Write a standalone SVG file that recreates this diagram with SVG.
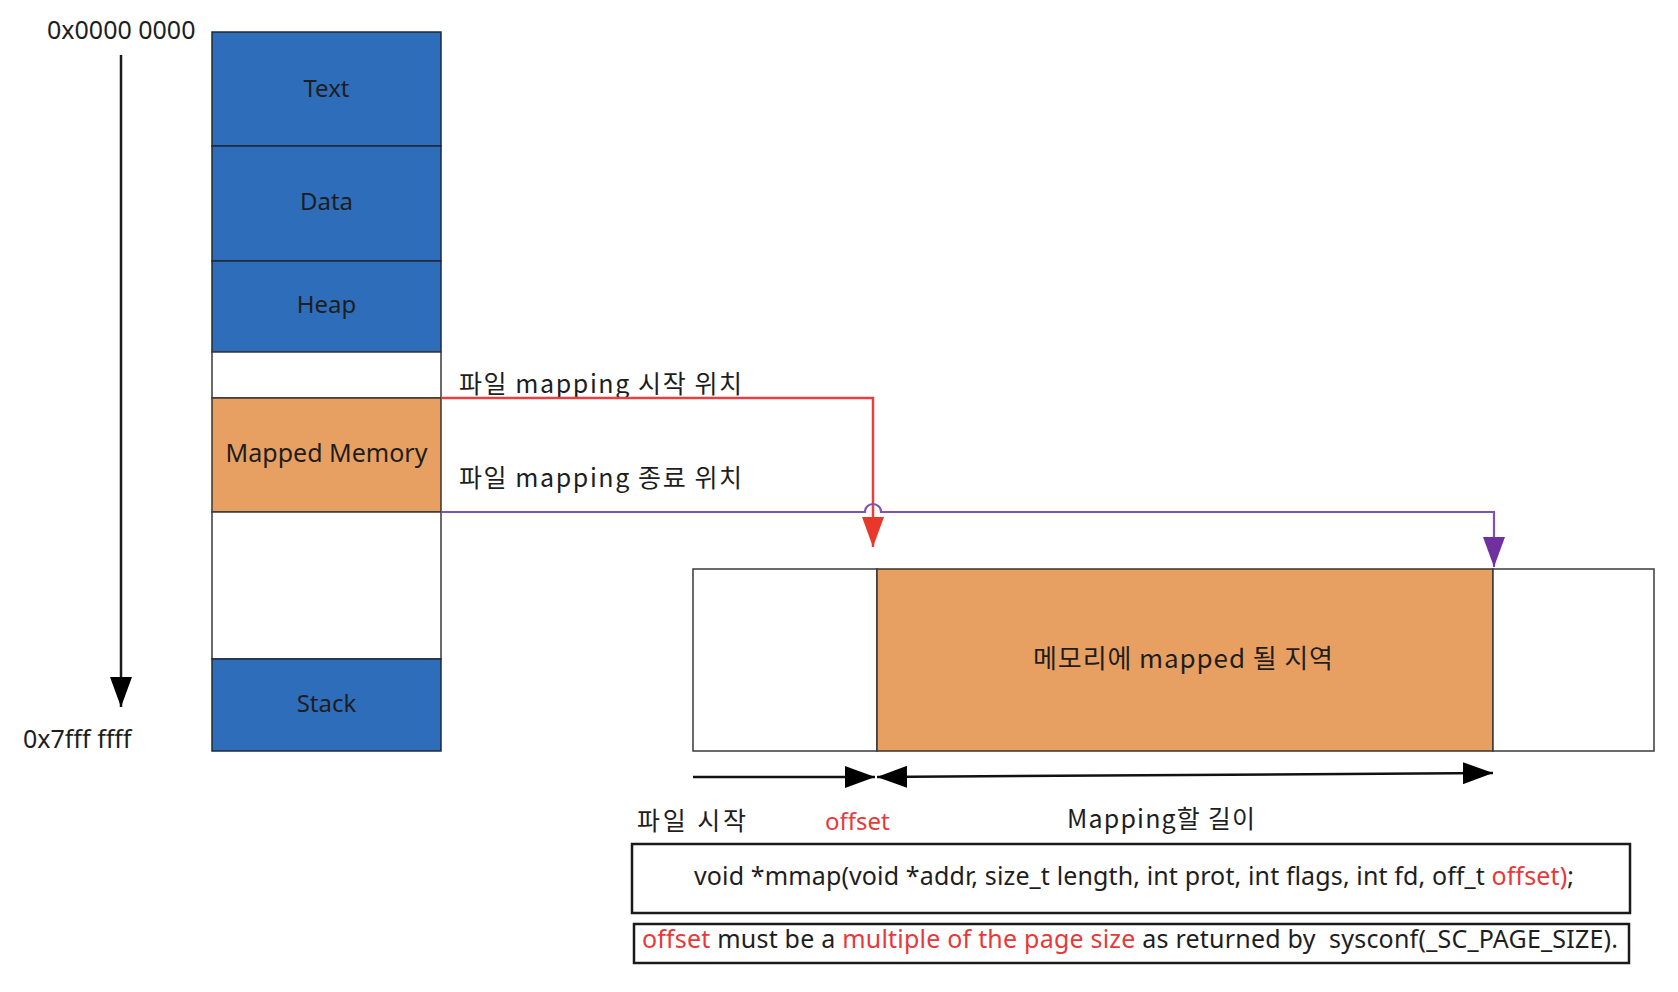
<svg xmlns="http://www.w3.org/2000/svg" width="1678" height="992" viewBox="0 0 1678 992">
<style>
  text { font-family: "Noto Sans", "Noto Sans CJK KR", sans-serif; fill: #1e1e1e; font-size: 24px; }
  .kr { font-family: "Noto Sans CJK KR", "Noto Sans", sans-serif; font-size: 25px; }
  .red { fill: #e8383a; }
  .mid { text-anchor: middle; }
  .blue { fill: #2e6db9; stroke: #1f2a3a; stroke-width: 1.5; }
  .orange { fill: #e8a062; stroke: #3a3330; stroke-width: 1.5; }
  .white { fill: #ffffff; stroke: #3a3a3a; stroke-width: 1.5; }
  .box { fill: #ffffff; stroke: #1a1a1a; stroke-width: 2.5; }
</style>
<defs>
  <marker id="ahBlack" markerUnits="userSpaceOnUse" markerWidth="30" markerHeight="22" refX="30" refY="11" orient="auto-start-reverse">
    <path d="M0,0 L30,11 L0,22 z" fill="#000"/>
  </marker>
  <marker id="ahRed" markerUnits="userSpaceOnUse" markerWidth="30" markerHeight="22" refX="30" refY="11" orient="auto">
    <path d="M0,0 L30,11 L0,22 z" fill="#e8382b"/>
  </marker>
  <marker id="ahPurple" markerUnits="userSpaceOnUse" markerWidth="30" markerHeight="22" refX="30" refY="11" orient="auto">
    <path d="M0,0 L30,11 L0,22 z" fill="#7030a0"/>
  </marker>
</defs>

<g id="address-axis">
  <text x="47" y="39" style="font-size:25px">0x0000 0000</text>
  <line x1="121" y1="55" x2="121" y2="707" stroke="#1a1a1a" stroke-width="2.5" marker-end="url(#ahBlack)"/>
  <text x="23" y="748" style="font-size:25px">0x7fff ffff</text>
</g>

<g id="seg-text"><rect class="blue" x="212" y="32" width="229" height="114"/><text class="mid" x="326.5" y="97">Text</text></g>
<g id="seg-data"><rect class="blue" x="212" y="146" width="229" height="115"/><text class="mid" x="326.5" y="210">Data</text></g>
<g id="seg-heap"><rect class="blue" x="212" y="261" width="229" height="91"/><text class="mid" x="326.5" y="313">Heap</text></g>
<g id="seg-gap1"><rect class="white" x="212" y="352" width="229" height="46"/></g>
<g id="seg-mapped"><rect class="orange" x="212" y="398" width="229" height="114"/><text class="mid" x="326.5" y="462" style="font-size:25px">Mapped Memory</text></g>
<g id="seg-gap2"><rect class="white" x="212" y="512" width="229" height="147"/></g>
<g id="seg-stack"><rect class="blue" x="212" y="659" width="229" height="92"/><text class="mid" x="326.5" y="712">Stack</text></g>

<g id="label-start"><text class="kr" x="459" y="393" textLength="283">파일 mapping 시작 위치</text></g>
<g id="label-end"><text class="kr" x="459" y="487" textLength="283">파일 mapping 종료 위치</text></g>

<g id="file-box">
  <rect class="white" x="693" y="569" width="184" height="182"/>
  <rect class="orange" x="877" y="569" width="616" height="182"/>
  <rect class="white" x="1493" y="569" width="161" height="182"/>
  <text class="kr" x="1033" y="668" textLength="300" style="font-size:26px">메모리에 mapped 될 지역</text>
</g>

<g id="connectors" fill="none">
  <path d="M441,398 H873 V547" stroke="#e84040" stroke-width="2.5" marker-end="url(#ahRed)"/>
  <path d="M441,512 H865 A8,8 0 0 1 881,512 H1494 V567" stroke="#7f52b5" stroke-width="2.2" marker-end="url(#ahPurple)"/>
  <line x1="693" y1="777" x2="875" y2="777" stroke="#111" stroke-width="2.5" marker-end="url(#ahBlack)"/>
  <line x1="877" y1="777" x2="1493" y2="773" stroke="#111" stroke-width="2.5" marker-start="url(#ahBlack)" marker-end="url(#ahBlack)"/>
</g>

<g id="bottom-labels">
  <text class="kr" x="637" y="830" textLength="109">파일 시작</text>
  <text class="red" x="825" y="830">offset</text>
  <text class="kr" x="1067" y="828" textLength="188">Mapping할 길이</text>
</g>

<g id="code-box">
  <rect class="box" x="632" y="844" width="998" height="69"/>
  <text x="694" y="885" textLength="880" style="font-size:25px">void *mmap(void *addr, size_t length, int prot, int flags, int fd, off_t <tspan class="red">offset)</tspan>;</text>
</g>

<g id="note-box">
  <rect class="box" x="634" y="924" width="995" height="39"/>
  <text x="642" y="948" textLength="976" style="font-size:25px" xml:space="preserve"><tspan class="red">offset</tspan> must be a <tspan class="red">multiple of the page size</tspan> as returned by  sysconf(_SC_PAGE_SIZE).</text>
</g>
</svg>
